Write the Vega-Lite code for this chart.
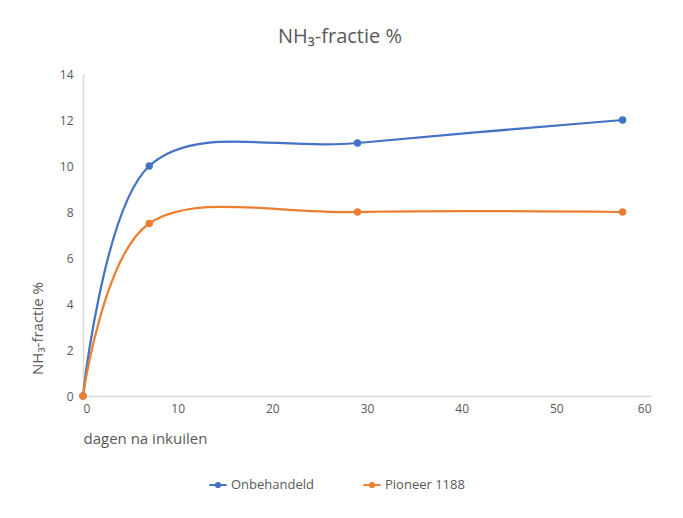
{
  "$schema": "https://vega.github.io/schema/vega-lite/v6.json",
  "width": 568,
  "height": 322,
  "autosize": "none",
  "padding": {"left": 83, "top": 74, "right": 32, "bottom": 122},
  "background": "white",
  "title": {
    "text": "NH₃-fractie %",
    "anchor": "middle",
    "dx": -27,
    "offset": 21,
    "fontSize": 20,
    "font": "Open Sans",
    "fontWeight": "normal",
    "color": "#595959"
  },
  "data": {
    "values": [
      {"dag": 0, "waarde": 0, "serie": "Onbehandeld"},
      {"dag": 7, "waarde": 10, "serie": "Onbehandeld"},
      {"dag": 29, "waarde": 11, "serie": "Onbehandeld"},
      {"dag": 57, "waarde": 12, "serie": "Onbehandeld"},
      {"dag": 0, "waarde": 0, "serie": "Pioneer 1188"},
      {"dag": 7, "waarde": 7.5, "serie": "Pioneer 1188"},
      {"dag": 29, "waarde": 8, "serie": "Pioneer 1188"},
      {"dag": 57, "waarde": 8, "serie": "Pioneer 1188"}
    ]
  },
  "mark": {
    "type": "line",
    "interpolate": "cardinal",
    "strokeWidth": 2.25,
    "point": {"filled": true, "size": 55}
  },
  "encoding": {
    "x": {
      "field": "dag",
      "type": "quantitative",
      "scale": {"domain": [0, 60], "nice": false},
      "axis": {
        "values": [0, 10, 20, 30, 40, 50, 60],
        "title": "dagen na inkuilen",
        "titleX": 0,
        "titleY": 42,
        "titleAlign": "left",
        "titleBaseline": "middle",
        "titleFontSize": 15,
        "grid": false,
        "ticks": false,
        "labelPadding": 7,
        "domainColor": "#d9d9d9",
        "domainWidth": 1.5
      }
    },
    "y": {
      "field": "waarde",
      "type": "quantitative",
      "scale": {"domain": [0, 14], "nice": false},
      "axis": {
        "values": [0, 2, 4, 6, 8, 10, 12, 14],
        "title": "NH₃-fractie %",
        "titleAngle": -90,
        "titleX": -46,
        "titleY": 254,
        "titleAlign": "center",
        "titleBaseline": "middle",
        "titleFontSize": 15,
        "grid": false,
        "ticks": false,
        "labelPadding": 10,
        "domainColor": "#d9d9d9",
        "domainWidth": 1.5
      }
    },
    "color": {
      "field": "serie",
      "type": "nominal",
      "scale": {"domain": ["Onbehandeld", "Pioneer 1188"], "range": ["#4472C4", "#ED7D31"]},
      "legend": {
        "title": null,
        "orient": "none",
        "direction": "horizontal",
        "legendX": 125,
        "legendY": 401,
        "symbolType": "M-1,0L1,0M-0.24,0a0.24,0.24 0 1,0 0.48,0a0.24,0.24 0 1,0 -0.48,0",
        "symbolSize": 300,
        "symbolStrokeWidth": 2,
        "labelFontSize": 13,
        "labelFont": "Open Sans",
        "labelColor": "#595959",
        "labelOffset": 3,
        "columnPadding": 45
      }
    }
  },
  "config": {
    "view": {"stroke": null},
    "axis": {
      "labelFont": "Open Sans",
      "labelFontSize": 12,
      "labelColor": "#595959",
      "titleFont": "Open Sans",
      "titleFontSize": 14,
      "titleFontWeight": "normal",
      "titleColor": "#595959"
    }
  }
}
